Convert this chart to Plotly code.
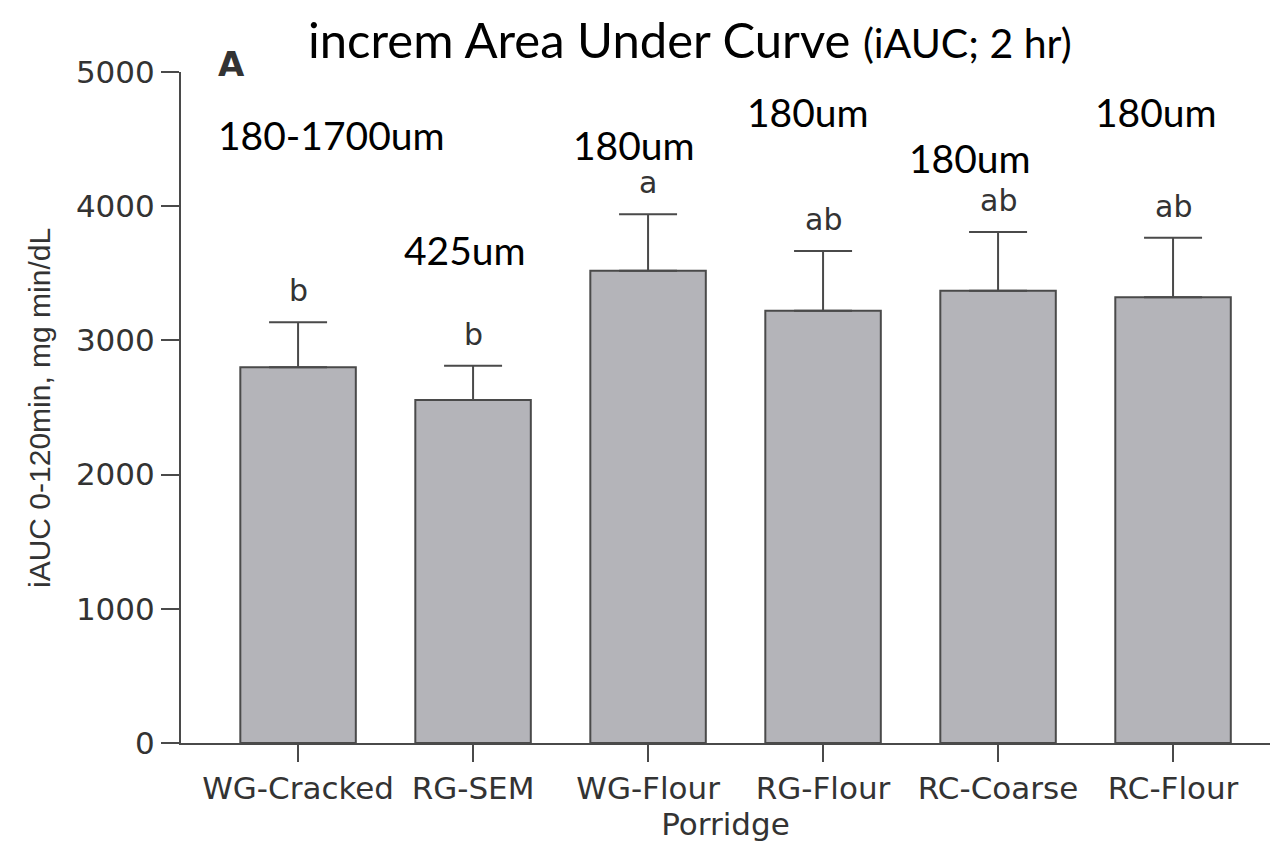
import plotly.graph_objects as go

categories = ["WG-Cracked", "RG-SEM", "WG-Flour", "RG-Flour", "RC-Coarse", "RC-Flour"]
means = [2800, 2556, 3519, 3221, 3370, 3321]
sem = [335, 255, 421, 445, 438, 444]
letters = ["b", "b", "a", "ab", "ab", "ab"]
particle_sizes = ["180-1700um", "425um", "180um", "180um", "180um", "180um"]
size_label_y = [4530, 3674, 4456, 4702, 4359, 4702]
size_label_dx = [0.19, -0.045, -0.08, -0.085, -0.16, -0.1]
y_ticks = [0, 1000, 2000, 3000, 4000, 5000]

# page body has an 8px margin, compensate
OFF = 8
W, H = 1279 - OFF, 849 - OFF
L, R, T, B = 181 - OFF, 9, 72 - OFF, 106
X0, X1, Y0, Y1 = 181, 1270, 72, 743  # plot area on screen

AX = "#4a4a4a"
FONT = "DejaVu Sans, Verdana, sans-serif"
FONT2 = "Liberation Sans, Arial, sans-serif"
CAL = "Lato, Carlito, Calibri, sans-serif"

fig = go.Figure()
fig.add_trace(go.Bar(
    x=list(range(len(categories))), y=means,
    width=0.66,
    marker=dict(color="#b4b4b9", line=dict(color=AX, width=2)),
    error_y=dict(type="data", array=sem, arrayminus=[0] * len(sem), symmetric=False,
                 color=AX, thickness=2, width=29),
    showlegend=False,
))

def px_x(p):
    return (p - X0) / (X1 - X0)

def px_y(p):
    return (Y1 - p) / (Y1 - Y0)

ann = []
for i, (m, s, lt) in enumerate(zip(means, sem, letters)):
    ann.append(dict(x=i, y=m + s, xref="x", yref="y", text=lt, showarrow=False,
                    yanchor="bottom", yshift=12,
                    font=dict(family=FONT, size=30, color="#333333")))
for i, (t, yy, dx) in enumerate(zip(particle_sizes, size_label_y, size_label_dx)):
    ann.append(dict(x=i + dx, y=yy, xref="x", yref="y", text=t, showarrow=False,
                    yanchor="middle", font=dict(family=CAL, size=39, color="black")))

ann.append(dict(x=px_x(690), y=px_y(39), xref="paper", yref="paper",
                text="increm Area Under Curve <span style='font-size:41px'>(iAUC; 2 hr)</span>",
                showarrow=False, yanchor="middle", xanchor="center",
                font=dict(family=CAL, size=49, color="black")))
ann.append(dict(x=px_x(231), y=px_y(64), xref="paper", yref="paper", text="<b>A</b>",
                showarrow=False, yanchor="middle", xanchor="center",
                font=dict(family=FONT, size=34, color="#333333")))
ann.append(dict(x=px_x(40), y=px_y(408), xref="paper", yref="paper",
                text="iAUC 0-120min, mg min/dL", textangle=-90,
                showarrow=False, yanchor="middle", xanchor="center",
                font=dict(family=FONT2, size=30, color="#333333")))

fig.update_layout(
    width=W, height=H,
    margin=dict(l=L, r=R, t=T, b=B, pad=0),
    paper_bgcolor="white", plot_bgcolor="white",
    annotations=ann,
)
fig.update_xaxes(
    range=[-0.669, 5.554],
    tickmode="array", tickvals=list(range(len(categories))), ticktext=categories,
    showline=True, linecolor=AX, linewidth=2,
    ticks="outside", ticklen=17, tickwidth=2, tickcolor=AX,
    showgrid=False, zeroline=False,
    tickfont=dict(family=FONT, size=31, color="#333333"),
    title=dict(text="Porridge", font=dict(family=FONT, size=31, color="#333333"), standoff=4),
)
fig.update_yaxes(
    range=[0, 5000],
    tickmode="array", tickvals=y_ticks, ticktext=[str(v) for v in y_ticks],
    showline=True, linecolor=AX, linewidth=2,
    ticks="outside", ticklen=18, tickwidth=2, tickcolor=AX,
    showgrid=False, zeroline=False,
    tickfont=dict(family=FONT, size=31, color="#333333"),
)

fig.write_html("out.html")
